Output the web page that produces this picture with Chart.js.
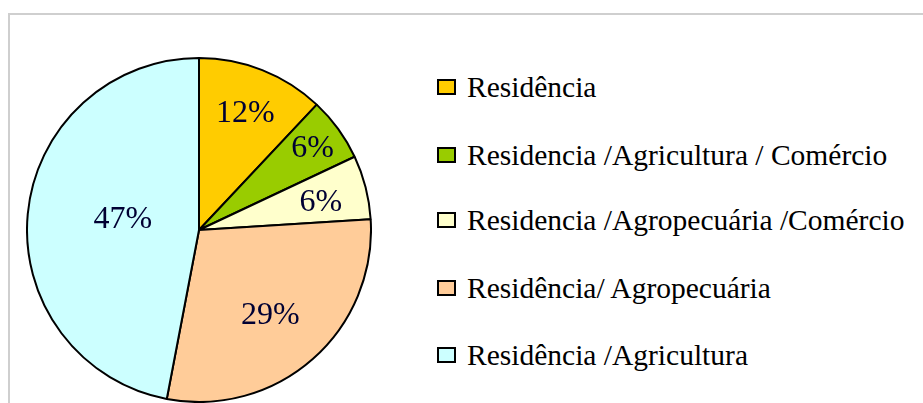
<!DOCTYPE html>
<html>
<head>
<meta charset="utf-8">
<script src="https://cdn.jsdelivr.net/npm/chart.js@4.4.1/dist/chart.umd.min.js"></script>
<style>
  html, body { margin: 0; padding: 0; background: #ffffff; }
  body { width: 923px; height: 403px; position: relative; overflow: hidden; }
  #frame { position: absolute; left: 8px; top: 13px; width: 940px; height: 420px;
           border-top: 2px solid #cfcfcf; border-left: 2px solid #cfcfcf; }
  #pieWrap { position: absolute; left: 26px; top: 57px; width: 346px; height: 346px; }
  #legend { position: absolute; left: 437px; top: 0; font-family: "Liberation Serif", serif;
            font-size: 29.5px; color: #000; }
  .item { position: absolute; left: 0; white-space: nowrap; height: 32px; line-height: 32px; }
  .box { position: absolute; left: 0; top: 8px; width: 15px; height: 12px; border: 2px solid #000; }
  .txt { position: absolute; left: 30px; top: 0; }
</style>
</head>
<body>
<div id="frame"></div>
<div id="pieWrap"><canvas id="c" width="346" height="346"></canvas></div>
<div id="legend"></div>
<script>
const categories = [
  "Residência",
  "Residencia /Agricultura / Comércio",
  "Residencia /Agropecuária /Comércio",
  "Residência/ Agropecuária",
  "Residência /Agricultura"
];
const percentValues = [12, 6, 6, 29, 47];
const sliceColors = ["#FFCC00", "#99CC00", "#FFFFCC", "#FFCC99", "#CCFFFF"];

// label placement (radius factor, angle shift in degrees) per slice
const labelRadius = [0.733, 0.816, 0.727, 0.645, 0.447];
const labelShift = [0, 0, 1.5, 1.4, 2.8];

const pctLabels = {
  id: 'pctLabels',
  afterDatasetsDraw(chart) {
    const ctx = chart.ctx;
    const meta = chart.getDatasetMeta(0);
    ctx.save();
    ctx.font = '32px "Liberation Serif", serif';
    ctx.fillStyle = '#000033';
    ctx.textAlign = 'center';
    ctx.textBaseline = 'middle';
    meta.data.forEach((arc, i) => {
      const p = arc.getProps(['x', 'y', 'startAngle', 'endAngle', 'outerRadius'], true);
      const mid = (p.startAngle + p.endAngle) / 2 + labelShift[i] * Math.PI / 180;
      const r = p.outerRadius * labelRadius[i];
      ctx.fillText(percentValues[i] + '%', p.x + Math.cos(mid) * r, p.y + Math.sin(mid) * r + 1);
    });
    ctx.restore();
  }
};

new Chart(document.getElementById('c'), {
  type: 'pie',
  data: {
    labels: categories,
    datasets: [{
      data: percentValues,
      backgroundColor: sliceColors,
      borderColor: '#000000',
      borderWidth: 2
    }]
  },
  options: {
    responsive: false,
    animation: false,
    layout: { padding: 0 },
    plugins: { legend: { display: false }, tooltip: { enabled: false } }
  },
  plugins: [pctLabels]
});

// legend
const legendTops = [71, 139, 204, 272, 339];
const leg = document.getElementById('legend');
categories.forEach((name, i) => {
  const it = document.createElement('div');
  it.className = 'item';
  it.style.top = legendTops[i] + 'px';
  const b = document.createElement('div');
  b.className = 'box';
  b.style.background = sliceColors[i];
  const t = document.createElement('span');
  t.className = 'txt';
  t.textContent = name;
  it.appendChild(b); it.appendChild(t);
  leg.appendChild(it);
});
</script>
</body>
</html>
